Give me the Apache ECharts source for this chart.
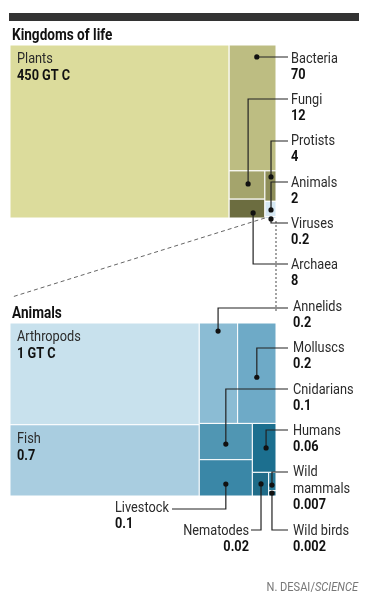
<!DOCTYPE html>
<html><head><meta charset="utf-8">
<script src="https://cdn.jsdelivr.net/npm/echarts@6/dist/echarts.min.js"></script>
<style>html,body{margin:0;padding:0;background:#fff}#c{width:374px;height:603px}</style>
</head><body><div id="c"></div>
<script>
// ---------- data ----------
const kingdomNames  = ['Plants', 'Bacteria', 'Fungi', 'Archaea', 'Protists', 'Animals', 'Viruses'];
const kingdomValues = [450, 70, 12, 8, 4, 2, 0.2];
const kingdomLabels = ['450 GT C', '70', '12', '8', '4', '2', '0.2'];

const animalNames  = ['Arthropods', 'Fish', 'Annelids', 'Molluscs', 'Cnidarians', 'Livestock', 'Humans', 'Nematodes', 'Wild mammals', 'Wild birds'];
const animalValues = [1, 0.7, 0.2, 0.2, 0.1, 0.1, 0.06, 0.02, 0.007, 0.002];
const animalLabels = ['1 GT C', '0.7', '0.2', '0.2', '0.1', '0.1', '0.06', '0.02', '0.007', '0.002'];

// nesting of the slice-and-dice treemaps (h = side by side, v = stacked)
const kingdomTree = {d: 'h', c: [0, {d: 'v', c: [1, {d: 'h', c: [{d: 'v', c: [2, 3]}, {d: 'v', c: [4, 5, 6]}]}]}]};
const animalTree  = {d: 'h', c: [{d: 'v', c: [0, 1]}, {d: 'v', c: [{d: 'h', c: [2, 3]}, {d: 'h', c: [{d: 'v', c: [4, 5]}, {d: 'v', c: [6, {d: 'h', c: [7, {d: 'v', c: [8, 9]}]}]}]}]}]};

// ---------- styles ----------
const kingdomColors = ['#dcdc9c', '#bdbd82', '#a4a46c', '#6c6d40', '#8e8e59', '#d6e8f3', '#9fbfd3'];
const animalColors  = ['#c8e1ed', '#a9cde0', '#8bbcd4', '#6eaac7', '#5096b3', '#3a87a7', '#1c6f8f', '#206c89', '#2a7a98', '#125c79'];
const FONT = 'Roboto, "Noto Sans", sans-serif';
const SX = 0.85;

// annotation placement (pixels for text/leader, fractions inside cell for the dot)
const kingdomNotes = {
  0: {inside: true},
  1: {fx: 0.59, fy: 0.095, lineY: 57,  endX: 288, tx: 291, ty: 59,  align: 'left'},
  2: {fx: 0.53, fy: 0.46,  lineY: 99,  endX: 288, tx: 291, ty: 100, align: 'left'},
  4: {fx: 0.55, fy: 0.2,   lineY: 141, endX: 288, tx: 291, ty: 141, align: 'left'},
  5: {fx: 0.55, fy: 0.57,  lineY: 182, endX: 288, tx: 291, ty: 183, align: 'left'},
  6: {fx: 0.55, fy: 1.6,   lineY: 223, endX: 288, tx: 291, ty: 224, align: 'left'},
  3: {fx: 0.67, fy: 0.73,  lineY: 264, endX: 288, tx: 291, ty: 265, align: 'left'}
};
const animalNotes = {
  0: {inside: true},
  1: {inside: true},
  2: {fx: 0.49, fy: 0.08, lineY: 308, endX: 288, tx: 293, ty: 307, align: 'left'},
  3: {fx: 0.5,  fy: 0.54, lineY: 348, endX: 288, tx: 293, ty: 348, align: 'left'},
  4: {fx: 0.5,  fy: 0.57, lineY: 389, endX: 288, tx: 293, ty: 390, align: 'left'},
  6: {fx: 0.58, fy: 0.5,  lineY: 430, endX: 288, tx: 293, ty: 431, align: 'left'},
  8: {fx: 0.45, fy: 0.69, lineY: 472, endX: 288, tx: 293, ty: 472, align: 'left', lines: ['Wild', 'mammals']},
  5: {fx: 0.5,  fy: 0.67, lineY: 509, endX: 172, tx: 115, ty: 508, align: 'left'},
  7: {fx: 0.53, fy: 0.49, lineY: 530, endX: 251, tx: 249, ty: 531, align: 'right'},
  9: {fx: 0.45, fy: 0.43, lineY: 530, endX: 288, tx: 293, ty: 531, align: 'left'}
};

// ---------- layout (in value space 0..1) ----------
function sumNode(n, vals) { return typeof n === 'number' ? vals[n] : n.c.reduce((s, k) => s + sumNode(k, vals), 0); }
function layout(node, vals, rect, out) {
  if (typeof node === 'number') { out[node] = rect; return out; }
  const total = sumNode(node, vals);
  let pos = node.d === 'h' ? rect[0] : rect[1];
  node.c.forEach(ch => {
    const f = sumNode(ch, vals) / total;
    if (node.d === 'h') { const w = (rect[2] - rect[0]) * f; layout(ch, vals, [pos, rect[1], pos + w, rect[3]], out); pos += w; }
    else { const h = (rect[3] - rect[1]) * f; layout(ch, vals, [rect[0], pos, rect[2], pos + h], out); pos += h; }
  });
  return out;
}
const kingdomRects = layout(kingdomTree, kingdomValues, [0, 0, 1, 1], []);
const animalRects  = layout(animalTree, animalValues, [0, 0, 1, 1], []);

function cellData(rects) { return rects.map((r, i) => [r[0], r[1], r[2], r[3], i]); }

function cellSeries(gridIdx, rects, colors) {
  return {
    type: 'custom', xAxisIndex: gridIdx, yAxisIndex: gridIdx, z: 2, silent: true,
    data: cellData(rects),
    renderItem: (params, api) => {
      const p0 = api.coord([api.value(0), api.value(1)]);
      const p1 = api.coord([api.value(2), api.value(3)]);
      return {type: 'rect', shape: {x: p0[0], y: p0[1], width: p1[0] - p0[0], height: p1[1] - p0[1]},
        style: {fill: colors[api.value(4)], stroke: '#fff', lineWidth: 1}};
    }
  };
}

function txt(x, y, s, bold, align) {
  return {type: 'text', x: x, y: y, scaleX: SX, z2: 10,
    style: {text: s, fill: bold ? '#111' : '#2a2a2a', font: (bold ? 'bold ' : '') + '15px ' + FONT, align: align, verticalAlign: 'middle'}};
}

function noteSeries(gridIdx, rects, names, labels, notes, extra) {
  return {
    type: 'custom', xAxisIndex: gridIdx, yAxisIndex: gridIdx, z: 5, silent: true,
    data: cellData(rects),
    renderItem: (params, api) => {
      const i = api.value(4);
      const n = notes[i];
      const children = [];
      const x0 = api.value(0), y0 = api.value(1), x1 = api.value(2), y1 = api.value(3);
      if (n && n.inside) {
        const p = api.coord([x0, y0]);
        children.push(txt(p[0] + 7, p[1] + 14, names[i], false, 'left'));
        children.push(txt(p[0] + 7, p[1] + 31, labels[i], true, 'left'));
      } else if (n) {
        const d = api.coord([x0 + (x1 - x0) * n.fx, y0 + (y1 - y0) * n.fy]);
        children.push({type: 'polyline', shape: {points: [d, [d[0], n.lineY], [n.endX, n.lineY]]},
          style: {stroke: '#222', lineWidth: 1.2, fill: null}});
        children.push({type: 'circle', shape: {cx: d[0], cy: d[1], r: 2.6}, style: {fill: '#111'}});
        const al = n.align;
        const lines = n.lines || [names[i]];
        lines.forEach((s, k) => children.push(txt(n.tx, n.ty + k * 17, s, false, al)));
        children.push(txt(n.tx, n.ty + lines.length * 17 - 1, labels[i], true, al));
      }
      if (extra) extra(i, api, children);
      return {type: 'group', children: children};
    }
  };
}

// connectors from the Animals cell to the Animals treemap
function connectors(i, api, children) {
  if (kingdomNames[i] !== 'Animals') return;
  const r = kingdomRects[i];
  const bl = api.coord([r[0], 1]);
  const br = api.coord([r[2], 1]);
  children.push({type: 'line', shape: {x1: bl[0], y1: bl[1], x2: 12, y2: 297},
    style: {stroke: '#666', lineWidth: 1, lineDash: [4, 3]}});
  children.push({type: 'line', shape: {x1: br[0], y1: br[1] + 3, x2: br[0], y2: 311},
    style: {stroke: '#666', lineWidth: 1.2, lineDash: [2, 2]}});
}

const chart = echarts.init(document.getElementById('c'), null, {renderer: 'canvas'});
const axisBase = {type: 'value', min: 0, max: 1, show: false};
chart.setOption({
  animation: false,
  backgroundColor: '#fff',
  grid: [
    {left: 10, top: 45, width: 266, height: 173},
    {left: 10, top: 323, width: 266, height: 173}
  ],
  xAxis: [Object.assign({gridIndex: 0}, axisBase), Object.assign({gridIndex: 1}, axisBase)],
  yAxis: [Object.assign({gridIndex: 0, inverse: true}, axisBase), Object.assign({gridIndex: 1, inverse: true}, axisBase)],
  graphic: [
    {type: 'rect', shape: {x: 9, y: 13, width: 350, height: 8}, style: {fill: '#333'}},
    {type: 'text', x: 12, y: 36, scaleX: SX, style: {text: 'Kingdoms of life', font: 'bold 16px ' + FONT, fill: '#111', verticalAlign: 'middle'}},
    {type: 'text', x: 12, y: 314, scaleX: SX, style: {text: 'Animals', font: 'bold 16px ' + FONT, fill: '#111', verticalAlign: 'middle'}},
    {type: 'text', x: 358, y: 588, scaleX: SX, style: {text: '{a|N. DESAI/}{b|SCIENCE}', align: 'right', verticalAlign: 'middle',
      rich: {a: {font: '13px ' + FONT, fill: '#777'}, b: {font: 'italic 13px ' + FONT, fill: '#777'}}}}
  ],
  series: [
    cellSeries(0, kingdomRects, kingdomColors),
    cellSeries(1, animalRects, animalColors),
    noteSeries(0, kingdomRects, kingdomNames, kingdomLabels, kingdomNotes, connectors),
    noteSeries(1, animalRects, animalNames, animalLabels, animalNotes)
  ]
});
</script></body></html>
